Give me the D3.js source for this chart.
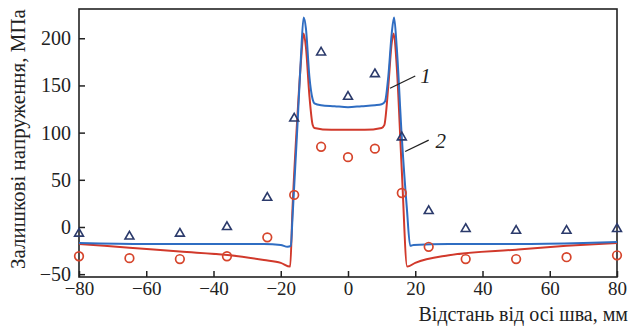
<!DOCTYPE html>
<html>
<head>
<meta charset="utf-8">
<script src="https://cdn.jsdelivr.net/npm/d3@7"></script>
<style>
  body { margin: 0; background: #fff; }
  svg { display: block; }
</style>
</head>
<body>
<div id="chart"></div>
<script>
// Calculated curve 1 (blue)
const line1X = [-80, -60, -40, -25, -20, -18, -17, -16.5, -15, -14, -13.2, -12.5, -11.5, -10.5, -10, -8, -4, 0, 4, 8, 10, 11, 12, 13, 13.7, 14.5, 16, 17.5, 18.5, 19.5, 30, 50, 70, 80];
const line1Y = [-17, -18, -18, -18, -19, -21, -20, 10, 110, 180, 222, 210, 160, 135, 131, 129, 128, 127, 128, 129, 130, 133, 160, 205, 222, 190, 95, 20, -20, -19, -18, -18, -17, -16];
// Calculated curve 2 (red)
const line2X = [-80, -65, -50, -35, -25, -20, -17.2, -16.5, -15, -14, -13.2, -12.5, -11.5, -10.5, -10, -5, 0, 5, 10, 10.8, 12, 13, 13.6, 14.5, 16, 17.6, 20, 30, 50, 65, 80];
const line2Y = [-18, -22, -26, -30, -35, -38, -42, 20, 120, 175, 205, 190, 140, 108, 105, 103, 103, 103, 105, 108, 150, 195, 205, 170, 60, -42, -38, -30, -24, -20, -17];
// Measured points
const triX = [-80, -65, -50, -36, -24, -16, -8, 0, 8, 16, 24, 35, 50, 65, 80];
const triY = [-7, -10, -7, 0, 31, 115, 185, 138, 162, 95, 17, -2, -4, -4, -2];
const circX = [-80, -65, -50, -36, -24, -16, -8, 0, 8, 16, 24, 35, 50, 65, 80];
const circY = [-31, -33, -34, -31, -11, 34, 85, 74, 83, 36, -21, -34, -34, -32, -30];

const xTicks = [-80, -60, -40, -20, 0, 20, 40, 60, 80];
const yTicks = [-50, 0, 50, 100, 150, 200];

const FONT = 'Liberation Serif';
const W = 634, H = 326;
const margin = { top: 9, right: 17, bottom: 49, left: 79 };
const width = W - margin.left - margin.right;
const height = H - margin.top - margin.bottom;

const svg = d3.select('#chart').append('svg')
  .attr('width', W).attr('height', H)
  .attr('font-family', FONT);
const g = svg.append('g').attr('transform', `translate(${margin.left},${margin.top})`);

const x = d3.scaleLinear().domain([-80, 80]).range([0, width]);
const y = d3.scaleLinear().domain([-53, 231]).range([height, 0]);

// Axes with inward ticks
const xAxis = g.append('g')
  .attr('transform', `translate(0,${height})`)
  .call(d3.axisBottom(x).tickValues(xTicks).tickSizeInner(-6).tickSizeOuter(0).tickPadding(5));
const yAxis = g.append('g')
  .call(d3.axisLeft(y).tickValues(yTicks).tickSizeInner(-6).tickSizeOuter(0).tickPadding(8));

[xAxis, yAxis].forEach(a => {
  a.attr('font-family', FONT).attr('font-size', 20);
  a.select('.domain').remove();
  a.selectAll('line').attr('stroke', '#222').attr('stroke-width', 1.5);
  a.selectAll('text').attr('fill', '#222').attr('font-family', FONT);
});
xAxis.attr('font-size', 19);

// Frame
g.append('rect')
  .attr('width', width).attr('height', height)
  .attr('fill', 'none').attr('stroke', '#222').attr('stroke-width', 1.6);

const line = d3.line().x(d => x(d[0])).y(d => y(d[1])).curve(d3.curveMonotoneX);

g.append('path')
  .datum(line2X.map((v, i) => [v, line2Y[i]]))
  .attr('fill', 'none').attr('stroke', '#d1392b').attr('stroke-width', 2)
  .attr('d', line);
g.append('path')
  .datum(line1X.map((v, i) => [v, line1Y[i]]))
  .attr('fill', 'none').attr('stroke', '#2f6dc2').attr('stroke-width', 2)
  .attr('d', line);

// Triangles
const tri = d3.symbol().type(d3.symbolTriangle).size(34);
g.selectAll('.tri')
  .data(triX.map((v, i) => [v, triY[i]]))
  .enter().append('path')
  .attr('class', 'tri')
  .attr('transform', d => `translate(${x(d[0])},${y(d[1])})`)
  .attr('d', tri)
  .attr('fill', 'none').attr('stroke', '#2b3a6b').attr('stroke-width', 1.6);

// Circles
g.selectAll('.circ')
  .data(circX.map((v, i) => [v, circY[i]]))
  .enter().append('circle')
  .attr('class', 'circ')
  .attr('cx', d => x(d[0])).attr('cy', d => y(d[1]))
  .attr('r', 4.3)
  .attr('fill', 'none').attr('stroke', '#d6452c').attr('stroke-width', 1.7);

// Curve labels with leaders
const labels = [
  { t: '1', x0: 12.5, y0: 147, x1: 20, y1: 160, tx: 21.5, ty: 160 },
  { t: '2', x0: 17, y0: 80, x1: 24, y1: 92, tx: 26, ty: 92 }
];
labels.forEach(l => {
  g.append('line')
    .attr('x1', x(l.x0)).attr('y1', y(l.y0)).attr('x2', x(l.x1)).attr('y2', y(l.y1))
    .attr('stroke', '#222').attr('stroke-width', 1.3);
  g.append('text')
    .attr('x', x(l.tx)).attr('y', y(l.ty)).attr('dy', '0.35em')
    .attr('font-family', FONT).attr('font-size', 21).attr('font-style', 'italic')
    .attr('fill', '#222')
    .text(l.t);
});

// Axis titles
svg.append('text')
  .attr('x', 628).attr('y', 321)
  .attr('text-anchor', 'end')
  .attr('font-family', FONT).attr('font-size', 20).attr('fill', '#222')
  .text('Відстань від осі шва, мм');

svg.append('text')
  .attr('transform', `translate(25,${margin.top + height / 2 - 4}) rotate(-90)`)
  .attr('text-anchor', 'middle')
  .attr('font-family', FONT).attr('font-size', 21).attr('fill', '#222')
  .text('Залишкові напруження, МПа');
</script>
</body>
</html>
